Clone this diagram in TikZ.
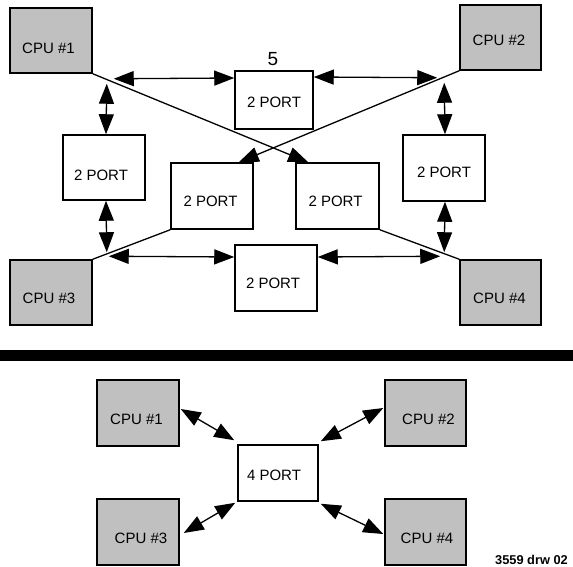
\documentclass[tikz,border=0pt]{standalone}
\usepackage{fontspec}
\setmainfont{Liberation Sans}
\usetikzlibrary{arrows.meta,calc}
\definecolor{cpufill}{RGB}{192,192,192}
\begin{document}
\begin{tikzpicture}[x=1pt,y=-1pt,
  box/.style={draw=black,line width=1.5pt,inner sep=0pt,minimum width=82pt,minimum height=65pt},
  cpu/.style={box,fill=cpufill},
  port/.style={box,fill=white},
  txt/.style={anchor=base,inner sep=0pt,font=\fontsize{15}{18}\selectfont},
  dbl/.style={line width=1.3pt,{Triangle[length=20pt,width=15pt]}-{Triangle[length=20pt,width=15pt]}},
  sgl/.style={line width=1.3pt,-{Triangle[length=20pt,width=15pt]}},
  pln/.style={line width=1.3pt}]
\useasboundingbox (0,0) rectangle (573,567);
% ---------- top section ----------
\node[cpu] (c1) at (51,40.5) {};
\node[cpu,minimum width=81pt] (c2) at (500.5,37.5) {};
\node[cpu] (c3) at (51,292.5) {};
\node[cpu,minimum width=81pt] (c4) at (500.5,292.5) {};
\node[port,minimum width=78pt,minimum height=58pt] (p5) at (274,100) {};
\node[port] (pL) at (104,167.5) {};
\node[port,minimum height=66pt] (pML) at (212,196) {};
\node[port,minimum width=83pt,minimum height=66pt] (pMR) at (337.5,196) {};
\node[port,minimum height=66pt] (pR) at (444,168) {};
\node[port,minimum height=66pt] (pB) at (276,278) {};
% texts
\node[txt] (tc1) at (48.5,54) {CPU \#1};
\node[txt] (tc2) at (499,45.5) {CPU \#2};
\node[txt] (tc3) at (49,303) {CPU \#3};
\node[txt] (tc4) at (499.5,303) {CPU \#4};
\node[txt] (tp5) at (274,108) {2 PORT};
\node[txt,font=\fontsize{19}{22}\selectfont] (t5) at (273,66) {5};
\node[txt] (tpL) at (101,181) {2 PORT};
\node[txt] (tpML) at (210.5,206) {2 PORT};
\node[txt] (tpMR) at (335.5,206) {2 PORT};
\node[txt] (tpR) at (444,177) {2 PORT};
\node[txt] (tpB) at (273,288) {2 PORT};
% connectors
\draw[dbl] ($(c1.south east)+(21,5)$) -- ($(p5.west)+(0,-22)$);
\draw[dbl] ($(p5.east)+(0,-23)$) -- ($(c2.south west)+(-22,7)$);
\draw[dbl] ($(c1.south east)+(14,10)$) -- ($(pL.north)+(2,0)$);
\draw[dbl] ($(pL.south)+(2,0)$) -- ($(c3.north east)+(14,-7)$);
\draw[dbl] ($(c2.south west)+(-15,12)$) -- ($(pR.north)+(1,0)$);
\draw[dbl] ($(pR.south)+(1,0)$) -- ($(c4.north west)+(-15,-7)$);
\draw[dbl] ($(c3.north east)+(16,-3)$) -- ($(pB.west)+(0,-21)$);
\draw[dbl] ($(pB.east)+(0,-21)$) -- ($(c4.north west)+(-19,-3)$);
\draw[sgl] (c1.south east) -- ($(pMR.north west)+(13,0)$);
\draw[sgl] (c2.south west) -- ($(pML.north east)+(-15,0)$);
\draw[pln] (c3.north east) -- (pML.south west);
\draw[pln] (c4.north west) -- (pMR.south east);
% ---------- separator ----------
\fill[black] (0,350) rectangle (573,361);
% ---------- bottom section ----------
\node[cpu,minimum height=66pt] (b1) at (138,413) {};
\node[cpu,minimum width=81pt,minimum height=66pt] (b2) at (425.5,413) {};
\node[cpu,minimum height=66pt] (b3) at (138,532) {};
\node[cpu,minimum width=81pt,minimum height=66pt] (b4) at (425.5,532) {};
\node[port,minimum width=80pt,minimum height=56pt] (q) at (278,473) {};
\node[txt] (tb1) at (136.5,424) {CPU \#1};
\node[txt] (tb2) at (428.5,424) {CPU \#2};
\node[txt] (tb3) at (141,543) {CPU \#3};
\node[txt] (tb4) at (427,543) {CPU \#4};
\node[txt] (tq) at (274,480) {4 PORT};
\draw[dbl] ($(b1.east)+(1,-4)$) -- ($(q.north west)+(-3,-4)$);
\draw[dbl] ($(b2.west)+(-1,-5)$) -- ($(q.north east)+(2,-3)$);
\draw[dbl] ($(b3.east)+(4,1)$) -- ($(q.south west)+(-2,1)$);
\draw[dbl] ($(q.south east)+(2,2)$) -- ($(b4.west)+(-1,2)$);
\node[anchor=base east,inner sep=0pt,font=\bfseries\fontsize{12.8}{15}\selectfont] (drw) at (568,564) {3559 drw 02};
\end{tikzpicture}
\end{document}
